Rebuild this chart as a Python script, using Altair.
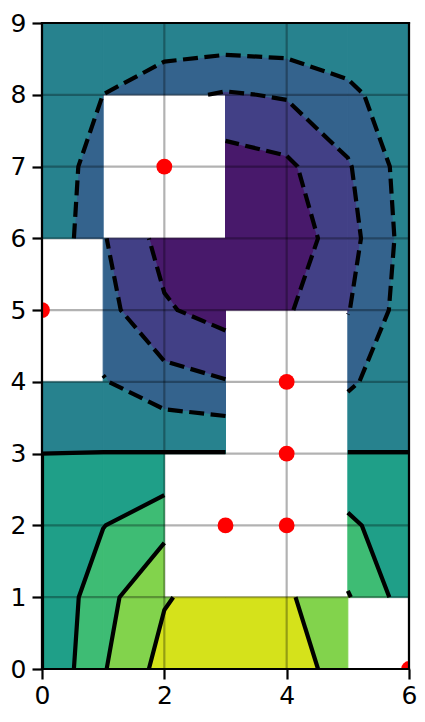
import numpy as np
import pandas as pd
import altair as alt

# ---------------- data ----------------
x_grid = [0, 1, 2, 3, 4, 5, 6]
y_grid = [0, 1, 2, 3, 4, 5, 6, 7, 8, 9]
# z values on the grid, one row per y value (y = 0 .. 9), columns x = 0 .. 6
z_rows = [
    [0.0, 0.4794, 0.8415, 0.9975, 0.9093, 0.5985, 0.1411],
    [0.0, 0.4160, 0.7303, 0.8656, 0.7891, 0.5194, 0.1225],
    [0.0, 0.2427, 0.4260, 0.5049, 0.4603, 0.3030, 0.0714],
    [0.0, 0.0052, 0.0091, 0.0108, 0.0098, 0.0065, 0.0015],
    [0.0, -0.2337, -0.4102, -0.4863, -0.4433, -0.2918, -0.0688],
    [0.0, -0.4108, -0.7211, -0.8548, -0.7792, -0.5129, -0.1209],
    [0.0, -0.4793, -0.8413, -0.9973, -0.9091, -0.5984, -0.1411],
    [0.0, -0.4211, -0.7391, -0.8761, -0.7986, -0.5257, -0.1239],
    [0.0, -0.2515, -0.4415, -0.5234, -0.4771, -0.3140, -0.0740],
    [0.0, -0.0155, -0.0273, -0.0323, -0.0295, -0.0194, -0.0046],
]
masked_x = [3, 4, 4, 4, 2, 0, 6]
masked_y = [2, 2, 3, 4, 7, 5, 0]
levels = [-1.0, -0.75, -0.5, -0.25, 0.0, 0.25, 0.5, 0.75, 1.0]
x_ticks = [0, 2, 4, 6]
y_ticks = [0, 1, 2, 3, 4, 5, 6, 7, 8, 9]
x_domain = [0, 6]
y_domain = [0, 9]

# ---------------- contour computation (corner_mask=False) ----------------
zg = np.array(z_rows, dtype=float)
mset = set(zip(masked_x, masked_y))


def inside(z, level, above):
    return (z > level) if above else (z <= level)


def clip(poly, level, above):
    out = []
    n = len(poly)
    for k in range(n):
        p = poly[k]
        q = poly[(k + 1) % n]
        pin = inside(p[2], level, above)
        qin = inside(q[2], level, above)
        if pin:
            out.append(p)
        if pin != qin:
            t = (level - p[2]) / (q[2] - p[2])
            out.append((p[0] + t * (q[0] - p[0]), p[1] + t * (q[1] - p[1]), level))
    return out


def area(poly):
    s = 0.0
    for k in range(len(poly)):
        x1, y1 = poly[k][0], poly[k][1]
        x2, y2 = poly[(k + 1) % len(poly)][0], poly[(k + 1) % len(poly)][1]
        s += x1 * y2 - x2 * y1
    return abs(s) / 2


quads = []
for j in range(len(y_grid) - 1):
    for i in range(len(x_grid) - 1):
        corners = [(i, j), (i + 1, j), (i + 1, j + 1), (i, j + 1)]
        if any((x_grid[a], y_grid[b]) in mset for a, b in corners):
            continue
        quads.append(corners)

fill_rows = []
pid = 0
for corners in quads:
    quad = [(x_grid[a], y_grid[b], zg[b][a]) for a, b in corners]
    for k in range(len(levels) - 1):
        lo, hi = levels[k], levels[k + 1]
        p = clip(quad, lo, True) if k > 0 else list(quad)
        if len(p) >= 3:
            p = clip(p, hi, False)
        if len(p) < 3 or area(p) < 1e-7:
            continue
        mid = (lo + hi) / 2
        for n, pt in enumerate(p + [p[0]]):
            fill_rows.append({"pid": pid, "n": n, "x": pt[0], "y": pt[1], "mid": mid})
        pid += 1
fill_df = pd.DataFrame(fill_rows)


def edge_point(a, b, level):
    # canonical order so shared edges give identical points
    if a > b:
        a, b = b, a
    (ia, ja), (ib, jb) = a, b
    za, zb = zg[ja][ia], zg[jb][ib]
    t = (level - za) / (zb - za)
    return (x_grid[ia] + t * (x_grid[ib] - x_grid[ia]),
            y_grid[ja] + t * (y_grid[jb] - y_grid[ja]))


line_rows = []
lid = 0
for level in levels[1:-1]:
    segs = []
    for corners in quads:
        pts = []
        for e in range(4):
            a = corners[e]
            b = corners[(e + 1) % 4]
            za = zg[a[1]][a[0]] > level
            zb = zg[b[1]][b[0]] > level
            if za != zb:
                pts.append(edge_point(a, b, level))
        if len(pts) == 2:
            segs.append((pts[0], pts[1]))
        elif len(pts) == 4:
            segs.append((pts[0], pts[1]))
            segs.append((pts[2], pts[3]))

    def key(p):
        return (round(p[0], 9), round(p[1], 9))

    adj = {}
    for idx, (p, q) in enumerate(segs):
        adj.setdefault(key(p), []).append(idx)
        adj.setdefault(key(q), []).append(idx)
    used = [False] * len(segs)

    def extend(path):
        while True:
            end = key(path[-1])
            nxt = None
            for idx in adj.get(end, []):
                if not used[idx]:
                    nxt = idx
                    break
            if nxt is None:
                return path
            used[nxt] = True
            p, q = segs[nxt]
            path.append(q if key(p) == end else p)

    order = sorted(range(len(segs)), key=lambda i: min(len(adj[key(segs[i][0])]), len(adj[key(segs[i][1])])))
    for idx in order:
        if used[idx]:
            continue
        used[idx] = True
        p, q = segs[idx]
        path = extend([p, q])
        path = list(reversed(extend(list(reversed(path)))))
        for n, pt in enumerate(path):
            line_rows.append({"lid": lid, "n": n, "x": pt[0], "y": pt[1],
                              "neg": level < 0})
        lid += 1
line_df = pd.DataFrame(line_rows)

pts_df = pd.DataFrame({"x": masked_x, "y": masked_y})
vgrid_df = pd.DataFrame({"x": x_ticks})
hgrid_df = pd.DataFrame({"y": y_ticks})
vframe_df = pd.DataFrame({"x": x_domain})
hframe_df = pd.DataFrame({"y": y_domain})

# ---------------- chart ----------------
X = alt.X("x:Q", scale=alt.Scale(domain=x_domain, nice=False, zero=False),
          axis=alt.Axis(values=x_ticks, title=None, labelPadding=4))
Y = alt.Y("y:Q", scale=alt.Scale(domain=y_domain, nice=False, zero=False),
          axis=alt.Axis(values=y_ticks, title=None, labelPadding=6))

color_scale = alt.Scale(scheme="viridis", domain=[-1, 1])

fills = alt.Chart(fill_df).mark_line(strokeWidth=1, clip=True).encode(
    x=X, y=Y,
    fill=alt.Fill("mid:Q", scale=color_scale, legend=None),
    stroke=alt.Stroke("mid:Q", scale=color_scale, legend=None),
    detail="pid:N",
    order="n:Q",
)

vgrid = alt.Chart(vgrid_df).mark_rule(color="black", opacity=0.3, strokeWidth=2.2).encode(x=X)
hgrid = alt.Chart(hgrid_df).mark_rule(color="black", opacity=0.3, strokeWidth=2.2).encode(y=Y)

neg_lines = alt.Chart(line_df[line_df["neg"]]).mark_line(
    color="black", strokeWidth=4.2, strokeDash=[15, 6.5], strokeCap="butt",
    strokeJoin="round", clip=True
).encode(x=X, y=Y, detail="lid:N", order="n:Q")

pos_lines = alt.Chart(line_df[~line_df["neg"]]).mark_line(
    color="black", strokeWidth=4.2, strokeCap="butt", strokeJoin="round", clip=True
).encode(x=X, y=Y, detail="lid:N", order="n:Q")

points = alt.Chart(pts_df).mark_circle(color="red", opacity=1, size=250, clip=True).encode(x=X, y=Y)

vframe = alt.Chart(vframe_df).mark_rule(color="black", strokeWidth=2.2, strokeCap="square").encode(x=X)
hframe = alt.Chart(hframe_df).mark_rule(color="black", strokeWidth=2.2, strokeCap="square").encode(y=Y)

chart = alt.layer(
    fills, vgrid, hgrid, neg_lines, pos_lines, points, vframe, hframe
).properties(
    width=367, height=646,
    autosize=alt.AutoSizeParams(type="none"),
    padding={"left": 34, "top": 15, "right": 8, "bottom": 39},
    background="white",
).configure_view(
    strokeWidth=0
).configure_axis(
    grid=False, domain=False,
    labelFont="DejaVu Sans", labelFontSize=25, labelColor="black",
    tickColor="black", tickWidth=2.2, tickSize=10,
    labelFlush=False, labelOverlap=False,
)

chart.save("out.html", embed_options={"renderer": "svg", "actions": False})
